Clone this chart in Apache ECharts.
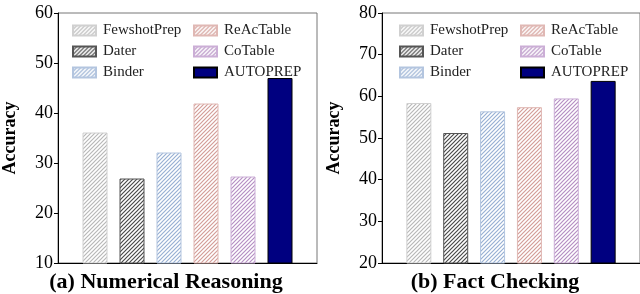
<!DOCTYPE html>
<html><head><meta charset="utf-8">
<script src="https://cdn.jsdelivr.net/npm/echarts@6/dist/echarts.min.js"></script>
<style>html,body{margin:0;padding:0;background:#fff}#c{width:640px;height:294px}</style>
</head><body><div id="c"></div>
<script>
const methods = ['FewshotPrep','Dater','Binder','ReAcTable','CoTable','AUTOPREP'];
const numericalReasoning = [36.1, 26.9, 32.1, 41.9, 27.3, 47.0];
const factChecking = [58.4, 51.2, 56.4, 57.4, 59.5, 63.7];
const leftTicks = [10, 60, 10];   // min, max, interval
const rightTicks = [20, 80, 10];
const panelTitles = ['(a) Numerical Reasoning', '(b) Fact Checking'];

const hatchColors = ['#b8b8b8','#4a4a4a','#98b0d3','#d39d98','#b58fc3', null];
const borderColors = ['#d0d0d0','#555555','#b3c5df','#e0b8b4','#cbaed6','#000000'];
const solidColors = [null,null,null,null,null,'#000080'];

function hatch(color){
  const c = document.createElement('canvas'); c.width = 4; c.height = 4;
  const g = c.getContext('2d');
  g.fillStyle = '#fff'; g.fillRect(0,0,4,4);
  g.strokeStyle = color; g.lineWidth = 1.2;
  g.beginPath();
  g.moveTo(-1,5); g.lineTo(5,-1);
  g.moveTo(-1,1); g.lineTo(1,-1);
  g.moveTo(3,5); g.lineTo(5,3);
  g.stroke();
  return {image: c, repeat: 'repeat'};
}
const fills = methods.map((m,i)=> solidColors[i] ? solidColors[i] : hatch(hatchColors[i]));

const FONT = 'Liberation Serif';
const chart = echarts.init(document.getElementById('c'), null, {renderer:'canvas'});

function yAxis(idx, t){
  return {
    gridIndex: idx, type:'value', min:t[0], max:t[1], interval:t[2],
    name:'Accuracy', nameLocation:'middle', nameGap: 39,
    nameTextStyle:{fontFamily:FONT, fontWeight:'bold', fontSize:18, color:'#000'},
    axisLine:{show:true, onZero:false, lineStyle:{color:'#000', width:1}},
    axisTick:{show:true, length:4, lineStyle:{color:'#000'}},
    axisLabel:{fontFamily:FONT, fontSize:18, color:'#000', margin:5},
    splitLine:{show:false}
  };
}
function xAxis(idx){
  return {
    gridIndex: idx, type:'value', min:-1, max:6,
    axisLine:{show:true, onZero:false, lineStyle:{color:'#000', width:1}},
    axisTick:{show:false}, axisLabel:{show:false}, splitLine:{show:false}
  };
}
const series = [];
[numericalReasoning, factChecking].forEach((vals, gi)=>{
  methods.forEach((m,i)=>{
    series.push({
      type:'bar', name:m, xAxisIndex:gi, yAxisIndex:gi,
      barWidth:25, barGap:'-100%',
      data:[[i, vals[i]]],
      itemStyle:{color:fills[i], borderColor:borderColors[i], borderWidth:1},
      emphasis:{disabled:true}, animation:false
    });
  });
});
function legend(left, names){
  return {
    left:left, top:23, orient:'vertical', data:names, padding:0,
    icon:'rect', itemWidth:23, itemHeight:10, itemGap:6, selectedMode:false,
    textStyle:{fontFamily:FONT, fontSize:15, color:'#222', padding:[0,0,0,2]}
  };
}
chart.setOption({
  animation:false,
  grid:[
    {left:56, top:13, width:261, height:250, show:true, borderColor:'#777', borderWidth:1},
    {left:382, top:13, width:261, height:250, show:true, borderColor:'#777', borderWidth:1}
  ],
  xAxis:[xAxis(0), xAxis(1)],
  yAxis:[yAxis(0, leftTicks), yAxis(1, rightTicks)],
  legend:[
    legend(72, methods.slice(0,3)), legend(193, methods.slice(3)),
    legend(399, methods.slice(0,3)), legend(520, methods.slice(3))
  ],
  title:[
    {text:panelTitles[0], left:161, top:266, textAlign:'center',
     textStyle:{fontFamily:FONT, fontWeight:'bold', fontSize:22, color:'#000'}},
    {text:panelTitles[1], left:490, top:266, textAlign:'center',
     textStyle:{fontFamily:FONT, fontWeight:'bold', fontSize:22, color:'#000'}}
  ],
  series: series
});
</script></body></html>
